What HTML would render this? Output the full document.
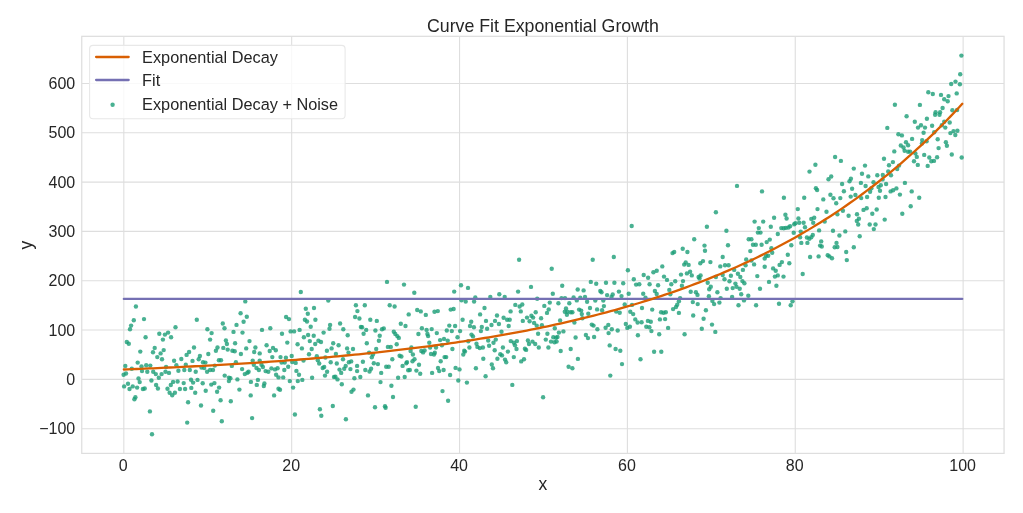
<!DOCTYPE html>
<html><head><meta charset="utf-8"><style>
html,body{margin:0;padding:0;background:#fff;}
body{width:1023px;height:513px;overflow:hidden;font-family:"Liberation Sans",sans-serif;}
svg{display:block;will-change:transform;}
</style></head><body>
<svg width="1023" height="513" viewBox="0 0 1023 513">
<rect width="1023" height="513" fill="#ffffff"/>
<path d="M123.82 36.33V453.40M291.68 36.33V453.40M459.54 36.33V453.40M627.40 36.33V453.40M795.26 36.33V453.40M963.12 36.33V453.40M81.75 428.68H1004.06M81.75 379.36H1004.06M81.75 330.04H1004.06M81.75 280.72H1004.06M81.75 231.41H1004.06M81.75 182.09H1004.06M81.75 132.77H1004.06M81.75 83.45H1004.06" stroke="#dedede" stroke-width="1.1" fill="none"/>
<g fill="#1b9e77" fill-opacity="0.8"><circle cx="135.9" cy="306.5" r="2.2"/><circle cx="133.8" cy="320.3" r="2.2"/><circle cx="131.1" cy="325.6" r="2.2"/><circle cx="130.0" cy="329.3" r="2.2"/><circle cx="144.0" cy="319.1" r="2.2"/><circle cx="175.5" cy="327.2" r="2.2"/><circle cx="196.8" cy="319.7" r="2.2"/><circle cx="207.4" cy="329.3" r="2.2"/><circle cx="211.6" cy="333.1" r="2.2"/><circle cx="222.8" cy="323.5" r="2.2"/><circle cx="224.5" cy="328.2" r="2.2"/><circle cx="236.5" cy="324.9" r="2.2"/><circle cx="233.5" cy="331.9" r="2.2"/><circle cx="159.3" cy="333.7" r="2.2"/><circle cx="164.9" cy="334.6" r="2.2"/><circle cx="168.1" cy="332.6" r="2.2"/><circle cx="171.1" cy="337.3" r="2.2"/><circle cx="162.9" cy="339.6" r="2.2"/><circle cx="145.6" cy="337.3" r="2.2"/><circle cx="126.8" cy="342.0" r="2.2"/><circle cx="128.8" cy="343.8" r="2.2"/><circle cx="140.3" cy="351.6" r="2.2"/><circle cx="154.7" cy="347.9" r="2.2"/><circle cx="153.0" cy="352.2" r="2.2"/><circle cx="160.6" cy="353.4" r="2.2"/><circle cx="163.7" cy="350.1" r="2.2"/><circle cx="157.3" cy="357.1" r="2.2"/><circle cx="162.0" cy="359.2" r="2.2"/><circle cx="194.0" cy="347.5" r="2.2"/><circle cx="189.1" cy="352.0" r="2.2"/><circle cx="186.6" cy="354.9" r="2.2"/><circle cx="199.9" cy="356.0" r="2.2"/><circle cx="198.7" cy="359.2" r="2.2"/><circle cx="181.3" cy="359.0" r="2.2"/><circle cx="210.1" cy="339.6" r="2.2"/><circle cx="208.3" cy="354.0" r="2.2"/><circle cx="217.5" cy="347.5" r="2.2"/><circle cx="215.9" cy="350.7" r="2.2"/><circle cx="223.3" cy="347.9" r="2.2"/><circle cx="225.9" cy="340.5" r="2.2"/><circle cx="226.9" cy="344.0" r="2.2"/><circle cx="227.7" cy="349.6" r="2.2"/><circle cx="232.4" cy="350.7" r="2.2"/><circle cx="234.7" cy="351.3" r="2.2"/><circle cx="235.1" cy="343.2" r="2.2"/><circle cx="174.1" cy="360.7" r="2.2"/><circle cx="192.5" cy="360.9" r="2.2"/><circle cx="218.9" cy="360.2" r="2.2"/><circle cx="221.0" cy="360.2" r="2.2"/><circle cx="125.3" cy="365.9" r="2.2"/><circle cx="137.7" cy="362.6" r="2.2"/><circle cx="131.8" cy="368.8" r="2.2"/><circle cx="141.5" cy="366.5" r="2.2"/><circle cx="146.2" cy="365.3" r="2.2"/><circle cx="150.3" cy="365.6" r="2.2"/><circle cx="142.0" cy="371.1" r="2.2"/><circle cx="147.3" cy="371.7" r="2.2"/><circle cx="153.2" cy="371.7" r="2.2"/><circle cx="155.8" cy="374.1" r="2.2"/><circle cx="158.8" cy="377.8" r="2.2"/><circle cx="161.6" cy="374.1" r="2.2"/><circle cx="165.5" cy="371.7" r="2.2"/><circle cx="169.0" cy="372.9" r="2.2"/><circle cx="166.1" cy="367.0" r="2.2"/><circle cx="176.4" cy="365.3" r="2.2"/><circle cx="178.4" cy="370.8" r="2.2"/><circle cx="184.3" cy="370.0" r="2.2"/><circle cx="185.8" cy="364.7" r="2.2"/><circle cx="189.8" cy="370.0" r="2.2"/><circle cx="195.7" cy="371.7" r="2.2"/><circle cx="203.0" cy="362.3" r="2.2"/><circle cx="205.4" cy="362.6" r="2.2"/><circle cx="201.5" cy="367.6" r="2.2"/><circle cx="204.2" cy="368.0" r="2.2"/><circle cx="207.1" cy="371.7" r="2.2"/><circle cx="210.1" cy="370.0" r="2.2"/><circle cx="213.0" cy="370.0" r="2.2"/><circle cx="214.8" cy="365.6" r="2.2"/><circle cx="231.8" cy="365.9" r="2.2"/><circle cx="235.9" cy="362.3" r="2.2"/><circle cx="123.6" cy="374.7" r="2.2"/><circle cx="126.0" cy="373.5" r="2.2"/><circle cx="138.5" cy="378.5" r="2.2"/><circle cx="139.7" cy="382.1" r="2.2"/><circle cx="151.4" cy="380.5" r="2.2"/><circle cx="124.1" cy="386.4" r="2.2"/><circle cx="128.0" cy="383.8" r="2.2"/><circle cx="129.5" cy="389.0" r="2.2"/><circle cx="132.7" cy="386.4" r="2.2"/><circle cx="137.1" cy="387.6" r="2.2"/><circle cx="142.9" cy="389.0" r="2.2"/><circle cx="144.7" cy="388.5" r="2.2"/><circle cx="156.1" cy="385.0" r="2.2"/><circle cx="157.9" cy="388.5" r="2.2"/><circle cx="167.5" cy="388.7" r="2.2"/><circle cx="170.8" cy="385.0" r="2.2"/><circle cx="173.1" cy="381.9" r="2.2"/><circle cx="177.6" cy="381.5" r="2.2"/><circle cx="179.9" cy="389.0" r="2.2"/><circle cx="183.7" cy="383.1" r="2.2"/><circle cx="185.1" cy="389.0" r="2.2"/><circle cx="191.0" cy="379.7" r="2.2"/><circle cx="193.1" cy="382.6" r="2.2"/><circle cx="197.5" cy="379.9" r="2.2"/><circle cx="191.3" cy="387.9" r="2.2"/><circle cx="195.2" cy="392.8" r="2.2"/><circle cx="202.7" cy="383.2" r="2.2"/><circle cx="205.7" cy="390.7" r="2.2"/><circle cx="211.3" cy="384.6" r="2.2"/><circle cx="214.4" cy="383.1" r="2.2"/><circle cx="219.1" cy="387.6" r="2.2"/><circle cx="217.1" cy="391.7" r="2.2"/><circle cx="224.7" cy="375.6" r="2.2"/><circle cx="228.9" cy="377.6" r="2.2"/><circle cx="230.4" cy="378.2" r="2.2"/><circle cx="228.9" cy="381.1" r="2.2"/><circle cx="237.4" cy="379.4" r="2.2"/><circle cx="169.6" cy="392.8" r="2.2"/><circle cx="172.2" cy="395.2" r="2.2"/><circle cx="174.9" cy="392.8" r="2.2"/><circle cx="135.4" cy="397.3" r="2.2"/><circle cx="134.4" cy="399.3" r="2.2"/><circle cx="188.1" cy="402.2" r="2.2"/><circle cx="201.0" cy="405.5" r="2.2"/><circle cx="220.6" cy="400.2" r="2.2"/><circle cx="230.8" cy="401.3" r="2.2"/><circle cx="149.9" cy="411.4" r="2.2"/><circle cx="213.2" cy="410.8" r="2.2"/><circle cx="152.0" cy="434.3" r="2.2"/><circle cx="187.2" cy="422.6" r="2.2"/><circle cx="221.8" cy="421.2" r="2.2"/><circle cx="300.8" cy="292.0" r="2.2"/><circle cx="245.3" cy="301.4" r="2.2"/><circle cx="328.3" cy="300.6" r="2.2"/><circle cx="355.9" cy="305.3" r="2.2"/><circle cx="357.4" cy="311.1" r="2.2"/><circle cx="240.6" cy="313.3" r="2.2"/><circle cx="246.8" cy="316.7" r="2.2"/><circle cx="243.6" cy="321.7" r="2.2"/><circle cx="305.8" cy="308.8" r="2.2"/><circle cx="314.0" cy="308.0" r="2.2"/><circle cx="307.8" cy="313.8" r="2.2"/><circle cx="286.1" cy="317.0" r="2.2"/><circle cx="289.0" cy="319.1" r="2.2"/><circle cx="304.9" cy="319.7" r="2.2"/><circle cx="307.0" cy="321.5" r="2.2"/><circle cx="315.4" cy="319.7" r="2.2"/><circle cx="355.1" cy="317.0" r="2.2"/><circle cx="310.7" cy="326.7" r="2.2"/><circle cx="330.1" cy="324.9" r="2.2"/><circle cx="340.1" cy="323.5" r="2.2"/><circle cx="329.5" cy="328.7" r="2.2"/><circle cx="343.3" cy="329.3" r="2.2"/><circle cx="262.0" cy="329.9" r="2.2"/><circle cx="270.3" cy="328.2" r="2.2"/><circle cx="242.5" cy="332.6" r="2.2"/><circle cx="282.0" cy="333.8" r="2.2"/><circle cx="290.6" cy="331.4" r="2.2"/><circle cx="294.1" cy="331.4" r="2.2"/><circle cx="299.6" cy="329.9" r="2.2"/><circle cx="323.6" cy="332.6" r="2.2"/><circle cx="347.7" cy="335.2" r="2.2"/><circle cx="303.9" cy="337.3" r="2.2"/><circle cx="308.1" cy="335.0" r="2.2"/><circle cx="313.7" cy="335.8" r="2.2"/><circle cx="309.8" cy="341.1" r="2.2"/><circle cx="318.4" cy="340.8" r="2.2"/><circle cx="321.0" cy="342.0" r="2.2"/><circle cx="315.2" cy="344.0" r="2.2"/><circle cx="249.5" cy="341.1" r="2.2"/><circle cx="287.3" cy="342.6" r="2.2"/><circle cx="297.6" cy="344.3" r="2.2"/><circle cx="266.6" cy="345.3" r="2.2"/><circle cx="255.4" cy="347.5" r="2.2"/><circle cx="246.2" cy="348.4" r="2.2"/><circle cx="273.0" cy="347.9" r="2.2"/><circle cx="275.8" cy="350.2" r="2.2"/><circle cx="269.7" cy="351.0" r="2.2"/><circle cx="254.2" cy="352.0" r="2.2"/><circle cx="259.7" cy="353.4" r="2.2"/><circle cx="240.9" cy="354.0" r="2.2"/><circle cx="301.9" cy="348.4" r="2.2"/><circle cx="311.7" cy="349.0" r="2.2"/><circle cx="333.2" cy="343.2" r="2.2"/><circle cx="338.6" cy="345.2" r="2.2"/><circle cx="331.6" cy="348.4" r="2.2"/><circle cx="326.9" cy="350.8" r="2.2"/><circle cx="347.1" cy="348.4" r="2.2"/><circle cx="353.0" cy="349.0" r="2.2"/><circle cx="348.5" cy="352.6" r="2.2"/><circle cx="335.9" cy="354.0" r="2.2"/><circle cx="309.0" cy="354.3" r="2.2"/><circle cx="291.7" cy="356.0" r="2.2"/><circle cx="272.3" cy="357.1" r="2.2"/><circle cx="280.5" cy="357.1" r="2.2"/><circle cx="285.9" cy="357.8" r="2.2"/><circle cx="316.8" cy="356.3" r="2.2"/><circle cx="325.4" cy="357.5" r="2.2"/><circle cx="343.0" cy="359.2" r="2.2"/><circle cx="252.7" cy="360.6" r="2.2"/><circle cx="259.7" cy="360.6" r="2.2"/><circle cx="281.6" cy="362.6" r="2.2"/><circle cx="284.7" cy="362.6" r="2.2"/><circle cx="292.2" cy="362.1" r="2.2"/><circle cx="295.7" cy="362.9" r="2.2"/><circle cx="303.5" cy="360.6" r="2.2"/><circle cx="317.8" cy="360.2" r="2.2"/><circle cx="330.7" cy="362.3" r="2.2"/><circle cx="336.8" cy="363.5" r="2.2"/><circle cx="348.9" cy="362.3" r="2.2"/><circle cx="351.2" cy="361.4" r="2.2"/><circle cx="357.1" cy="365.9" r="2.2"/><circle cx="253.8" cy="364.7" r="2.2"/><circle cx="261.5" cy="364.7" r="2.2"/><circle cx="256.5" cy="368.0" r="2.2"/><circle cx="258.9" cy="370.0" r="2.2"/><circle cx="262.9" cy="367.0" r="2.2"/><circle cx="242.1" cy="369.1" r="2.2"/><circle cx="244.8" cy="374.1" r="2.2"/><circle cx="248.6" cy="371.7" r="2.2"/><circle cx="247.4" cy="372.7" r="2.2"/><circle cx="265.6" cy="371.1" r="2.2"/><circle cx="268.3" cy="371.7" r="2.2"/><circle cx="271.4" cy="368.4" r="2.2"/><circle cx="275.0" cy="369.4" r="2.2"/><circle cx="277.6" cy="368.2" r="2.2"/><circle cx="284.3" cy="370.0" r="2.2"/><circle cx="288.2" cy="366.8" r="2.2"/><circle cx="276.1" cy="374.7" r="2.2"/><circle cx="278.5" cy="377.4" r="2.2"/><circle cx="283.2" cy="377.4" r="2.2"/><circle cx="296.4" cy="370.9" r="2.2"/><circle cx="299.0" cy="374.7" r="2.2"/><circle cx="319.2" cy="363.5" r="2.2"/><circle cx="322.7" cy="368.0" r="2.2"/><circle cx="324.2" cy="367.0" r="2.2"/><circle cx="327.1" cy="371.7" r="2.2"/><circle cx="325.0" cy="375.6" r="2.2"/><circle cx="339.5" cy="369.6" r="2.2"/><circle cx="341.2" cy="372.9" r="2.2"/><circle cx="344.2" cy="368.8" r="2.2"/><circle cx="345.7" cy="365.9" r="2.2"/><circle cx="350.4" cy="369.1" r="2.2"/><circle cx="357.1" cy="371.1" r="2.2"/><circle cx="334.0" cy="377.0" r="2.2"/><circle cx="335.4" cy="376.8" r="2.2"/><circle cx="337.5" cy="379.4" r="2.2"/><circle cx="354.4" cy="378.2" r="2.2"/><circle cx="250.9" cy="381.9" r="2.2"/><circle cx="257.9" cy="379.9" r="2.2"/><circle cx="256.8" cy="384.9" r="2.2"/><circle cx="264.4" cy="383.5" r="2.2"/><circle cx="263.8" cy="386.0" r="2.2"/><circle cx="289.8" cy="381.1" r="2.2"/><circle cx="297.8" cy="381.1" r="2.2"/><circle cx="302.3" cy="379.9" r="2.2"/><circle cx="312.1" cy="377.8" r="2.2"/><circle cx="341.8" cy="384.3" r="2.2"/><circle cx="239.4" cy="389.6" r="2.2"/><circle cx="278.5" cy="388.7" r="2.2"/><circle cx="280.0" cy="389.7" r="2.2"/><circle cx="293.1" cy="387.6" r="2.2"/><circle cx="351.5" cy="391.7" r="2.2"/><circle cx="353.5" cy="389.6" r="2.2"/><circle cx="250.7" cy="395.4" r="2.2"/><circle cx="274.1" cy="395.4" r="2.2"/><circle cx="332.8" cy="406.0" r="2.2"/><circle cx="319.9" cy="409.3" r="2.2"/><circle cx="321.3" cy="415.7" r="2.2"/><circle cx="294.9" cy="414.5" r="2.2"/><circle cx="252.1" cy="418.1" r="2.2"/><circle cx="345.9" cy="419.2" r="2.2"/><circle cx="387.0" cy="281.9" r="2.2"/><circle cx="404.0" cy="284.6" r="2.2"/><circle cx="414.3" cy="292.8" r="2.2"/><circle cx="454.2" cy="291.6" r="2.2"/><circle cx="461.0" cy="285.2" r="2.2"/><circle cx="468.0" cy="287.9" r="2.2"/><circle cx="475.3" cy="297.5" r="2.2"/><circle cx="461.5" cy="300.2" r="2.2"/><circle cx="465.7" cy="301.6" r="2.2"/><circle cx="474.1" cy="301.6" r="2.2"/><circle cx="364.8" cy="305.3" r="2.2"/><circle cx="389.7" cy="305.3" r="2.2"/><circle cx="394.6" cy="306.5" r="2.2"/><circle cx="359.4" cy="318.5" r="2.2"/><circle cx="370.3" cy="319.7" r="2.2"/><circle cx="376.8" cy="320.9" r="2.2"/><circle cx="408.7" cy="314.4" r="2.2"/><circle cx="417.2" cy="310.0" r="2.2"/><circle cx="420.8" cy="311.4" r="2.2"/><circle cx="425.8" cy="314.9" r="2.2"/><circle cx="434.5" cy="311.7" r="2.2"/><circle cx="437.8" cy="311.1" r="2.2"/><circle cx="450.7" cy="309.6" r="2.2"/><circle cx="453.6" cy="309.0" r="2.2"/><circle cx="462.6" cy="319.7" r="2.2"/><circle cx="471.2" cy="321.7" r="2.2"/><circle cx="470.0" cy="326.0" r="2.2"/><circle cx="473.9" cy="327.2" r="2.2"/><circle cx="400.8" cy="323.8" r="2.2"/><circle cx="405.5" cy="326.0" r="2.2"/><circle cx="449.3" cy="325.6" r="2.2"/><circle cx="455.1" cy="326.0" r="2.2"/><circle cx="360.9" cy="327.0" r="2.2"/><circle cx="362.1" cy="327.2" r="2.2"/><circle cx="366.2" cy="329.9" r="2.2"/><circle cx="375.4" cy="330.5" r="2.2"/><circle cx="382.0" cy="329.3" r="2.2"/><circle cx="383.8" cy="328.4" r="2.2"/><circle cx="363.6" cy="333.8" r="2.2"/><circle cx="379.7" cy="335.8" r="2.2"/><circle cx="378.9" cy="340.7" r="2.2"/><circle cx="393.8" cy="331.7" r="2.2"/><circle cx="395.3" cy="334.0" r="2.2"/><circle cx="397.3" cy="336.1" r="2.2"/><circle cx="398.8" cy="337.9" r="2.2"/><circle cx="421.9" cy="328.2" r="2.2"/><circle cx="426.6" cy="329.9" r="2.2"/><circle cx="431.7" cy="329.1" r="2.2"/><circle cx="436.8" cy="333.1" r="2.2"/><circle cx="418.4" cy="334.0" r="2.2"/><circle cx="427.4" cy="334.0" r="2.2"/><circle cx="428.1" cy="336.1" r="2.2"/><circle cx="446.8" cy="330.5" r="2.2"/><circle cx="451.8" cy="331.1" r="2.2"/><circle cx="460.1" cy="331.1" r="2.2"/><circle cx="457.5" cy="337.2" r="2.2"/><circle cx="471.5" cy="334.6" r="2.2"/><circle cx="473.0" cy="336.4" r="2.2"/><circle cx="440.1" cy="340.1" r="2.2"/><circle cx="444.0" cy="338.9" r="2.2"/><circle cx="447.7" cy="340.7" r="2.2"/><circle cx="429.3" cy="342.8" r="2.2"/><circle cx="366.8" cy="343.2" r="2.2"/><circle cx="396.7" cy="344.3" r="2.2"/><circle cx="387.9" cy="346.9" r="2.2"/><circle cx="390.8" cy="346.9" r="2.2"/><circle cx="376.2" cy="349.0" r="2.2"/><circle cx="411.4" cy="347.5" r="2.2"/><circle cx="430.1" cy="347.5" r="2.2"/><circle cx="436.0" cy="347.5" r="2.2"/><circle cx="441.9" cy="345.2" r="2.2"/><circle cx="452.4" cy="349.0" r="2.2"/><circle cx="468.3" cy="341.3" r="2.2"/><circle cx="476.5" cy="343.8" r="2.2"/><circle cx="477.4" cy="346.9" r="2.2"/><circle cx="469.4" cy="347.5" r="2.2"/><circle cx="464.2" cy="350.7" r="2.2"/><circle cx="465.0" cy="351.6" r="2.2"/><circle cx="463.3" cy="354.5" r="2.2"/><circle cx="410.6" cy="351.0" r="2.2"/><circle cx="412.9" cy="354.5" r="2.2"/><circle cx="421.3" cy="351.0" r="2.2"/><circle cx="424.6" cy="350.4" r="2.2"/><circle cx="423.1" cy="352.4" r="2.2"/><circle cx="431.0" cy="354.0" r="2.2"/><circle cx="434.8" cy="352.8" r="2.2"/><circle cx="434.0" cy="354.5" r="2.2"/><circle cx="369.1" cy="352.6" r="2.2"/><circle cx="373.0" cy="354.5" r="2.2"/><circle cx="371.8" cy="357.2" r="2.2"/><circle cx="399.6" cy="355.7" r="2.2"/><circle cx="401.4" cy="356.5" r="2.2"/><circle cx="444.6" cy="357.1" r="2.2"/><circle cx="446.2" cy="357.1" r="2.2"/><circle cx="392.3" cy="359.2" r="2.2"/><circle cx="414.5" cy="359.2" r="2.2"/><circle cx="362.9" cy="361.8" r="2.2"/><circle cx="407.0" cy="362.1" r="2.2"/><circle cx="406.3" cy="363.3" r="2.2"/><circle cx="412.5" cy="361.2" r="2.2"/><circle cx="440.7" cy="361.2" r="2.2"/><circle cx="373.8" cy="363.3" r="2.2"/><circle cx="377.9" cy="364.1" r="2.2"/><circle cx="386.2" cy="366.8" r="2.2"/><circle cx="388.7" cy="366.8" r="2.2"/><circle cx="402.6" cy="365.9" r="2.2"/><circle cx="419.0" cy="364.7" r="2.2"/><circle cx="365.3" cy="370.0" r="2.2"/><circle cx="369.5" cy="371.5" r="2.2"/><circle cx="371.1" cy="368.8" r="2.2"/><circle cx="381.2" cy="372.9" r="2.2"/><circle cx="408.2" cy="370.3" r="2.2"/><circle cx="409.8" cy="370.0" r="2.2"/><circle cx="416.4" cy="370.6" r="2.2"/><circle cx="420.2" cy="373.7" r="2.2"/><circle cx="432.1" cy="372.9" r="2.2"/><circle cx="438.0" cy="368.0" r="2.2"/><circle cx="439.2" cy="371.1" r="2.2"/><circle cx="443.6" cy="370.0" r="2.2"/><circle cx="450.1" cy="375.0" r="2.2"/><circle cx="455.6" cy="367.9" r="2.2"/><circle cx="459.5" cy="369.4" r="2.2"/><circle cx="475.9" cy="368.2" r="2.2"/><circle cx="360.3" cy="377.0" r="2.2"/><circle cx="398.1" cy="377.8" r="2.2"/><circle cx="404.7" cy="377.0" r="2.2"/><circle cx="458.3" cy="380.5" r="2.2"/><circle cx="466.9" cy="382.6" r="2.2"/><circle cx="380.5" cy="382.1" r="2.2"/><circle cx="391.4" cy="385.8" r="2.2"/><circle cx="442.5" cy="391.1" r="2.2"/><circle cx="368.0" cy="395.4" r="2.2"/><circle cx="393.0" cy="397.0" r="2.2"/><circle cx="448.1" cy="400.8" r="2.2"/><circle cx="375.0" cy="407.2" r="2.2"/><circle cx="385.0" cy="406.3" r="2.2"/><circle cx="385.6" cy="407.7" r="2.2"/><circle cx="415.7" cy="406.7" r="2.2"/><circle cx="519.1" cy="259.7" r="2.2"/><circle cx="551.7" cy="268.7" r="2.2"/><circle cx="592.7" cy="259.7" r="2.2"/><circle cx="590.8" cy="281.9" r="2.2"/><circle cx="596.2" cy="283.8" r="2.2"/><circle cx="531.0" cy="286.9" r="2.2"/><circle cx="562.2" cy="285.7" r="2.2"/><circle cx="577.7" cy="289.5" r="2.2"/><circle cx="583.6" cy="290.4" r="2.2"/><circle cx="518.1" cy="291.6" r="2.2"/><circle cx="499.3" cy="294.2" r="2.2"/><circle cx="504.7" cy="296.9" r="2.2"/><circle cx="490.3" cy="296.9" r="2.2"/><circle cx="552.8" cy="293.7" r="2.2"/><circle cx="585.0" cy="296.9" r="2.2"/><circle cx="573.6" cy="297.5" r="2.2"/><circle cx="537.2" cy="298.7" r="2.2"/><circle cx="561.5" cy="298.1" r="2.2"/><circle cx="565.0" cy="298.1" r="2.2"/><circle cx="580.3" cy="297.7" r="2.2"/><circle cx="576.8" cy="300.4" r="2.2"/><circle cx="587.1" cy="301.8" r="2.2"/><circle cx="595.3" cy="300.6" r="2.2"/><circle cx="484.5" cy="308.0" r="2.2"/><circle cx="515.3" cy="304.9" r="2.2"/><circle cx="519.6" cy="306.5" r="2.2"/><circle cx="522.3" cy="304.5" r="2.2"/><circle cx="520.8" cy="311.4" r="2.2"/><circle cx="510.6" cy="311.4" r="2.2"/><circle cx="480.1" cy="314.4" r="2.2"/><circle cx="497.0" cy="315.5" r="2.2"/><circle cx="503.6" cy="317.8" r="2.2"/><circle cx="486.0" cy="320.9" r="2.2"/><circle cx="495.0" cy="320.9" r="2.2"/><circle cx="498.9" cy="324.0" r="2.2"/><circle cx="491.5" cy="325.0" r="2.2"/><circle cx="507.1" cy="319.7" r="2.2"/><circle cx="509.7" cy="319.7" r="2.2"/><circle cx="508.7" cy="326.0" r="2.2"/><circle cx="481.8" cy="327.0" r="2.2"/><circle cx="480.9" cy="331.1" r="2.2"/><circle cx="487.1" cy="328.7" r="2.2"/><circle cx="501.5" cy="331.7" r="2.2"/><circle cx="522.8" cy="320.9" r="2.2"/><circle cx="527.0" cy="317.6" r="2.2"/><circle cx="531.4" cy="315.8" r="2.2"/><circle cx="533.1" cy="317.6" r="2.2"/><circle cx="529.6" cy="321.3" r="2.2"/><circle cx="534.1" cy="322.9" r="2.2"/><circle cx="535.7" cy="312.3" r="2.2"/><circle cx="536.7" cy="325.6" r="2.2"/><circle cx="541.9" cy="325.2" r="2.2"/><circle cx="541.1" cy="318.2" r="2.2"/><circle cx="544.3" cy="305.9" r="2.2"/><circle cx="549.8" cy="302.6" r="2.2"/><circle cx="548.7" cy="309.4" r="2.2"/><circle cx="547.0" cy="312.9" r="2.2"/><circle cx="558.4" cy="303.3" r="2.2"/><circle cx="569.3" cy="303.3" r="2.2"/><circle cx="564.8" cy="311.7" r="2.2"/><circle cx="566.0" cy="308.4" r="2.2"/><circle cx="567.4" cy="311.7" r="2.2"/><circle cx="566.9" cy="314.7" r="2.2"/><circle cx="570.7" cy="312.3" r="2.2"/><circle cx="572.4" cy="312.3" r="2.2"/><circle cx="560.1" cy="320.5" r="2.2"/><circle cx="554.8" cy="328.2" r="2.2"/><circle cx="558.9" cy="332.6" r="2.2"/><circle cx="563.4" cy="331.4" r="2.2"/><circle cx="574.4" cy="322.6" r="2.2"/><circle cx="579.1" cy="309.6" r="2.2"/><circle cx="581.2" cy="310.6" r="2.2"/><circle cx="581.8" cy="314.1" r="2.2"/><circle cx="582.4" cy="318.2" r="2.2"/><circle cx="588.3" cy="313.8" r="2.2"/><circle cx="590.0" cy="308.0" r="2.2"/><circle cx="597.1" cy="309.4" r="2.2"/><circle cx="591.8" cy="324.6" r="2.2"/><circle cx="593.5" cy="325.6" r="2.2"/><circle cx="597.4" cy="329.3" r="2.2"/><circle cx="538.1" cy="333.8" r="2.2"/><circle cx="547.4" cy="333.8" r="2.2"/><circle cx="545.8" cy="339.6" r="2.2"/><circle cx="551.0" cy="341.6" r="2.2"/><circle cx="553.3" cy="337.3" r="2.2"/><circle cx="556.0" cy="337.8" r="2.2"/><circle cx="557.5" cy="337.0" r="2.2"/><circle cx="554.5" cy="342.2" r="2.2"/><circle cx="556.6" cy="341.6" r="2.2"/><circle cx="575.6" cy="337.5" r="2.2"/><circle cx="585.9" cy="335.0" r="2.2"/><circle cx="588.0" cy="338.1" r="2.2"/><circle cx="594.1" cy="337.0" r="2.2"/><circle cx="548.4" cy="347.5" r="2.2"/><circle cx="560.7" cy="351.0" r="2.2"/><circle cx="570.7" cy="349.0" r="2.2"/><circle cx="538.8" cy="347.5" r="2.2"/><circle cx="495.8" cy="339.6" r="2.2"/><circle cx="488.2" cy="340.5" r="2.2"/><circle cx="493.5" cy="342.8" r="2.2"/><circle cx="489.1" cy="345.7" r="2.2"/><circle cx="479.8" cy="348.1" r="2.2"/><circle cx="482.9" cy="347.5" r="2.2"/><circle cx="494.7" cy="350.2" r="2.2"/><circle cx="502.9" cy="347.5" r="2.2"/><circle cx="507.9" cy="351.6" r="2.2"/><circle cx="500.3" cy="354.2" r="2.2"/><circle cx="502.0" cy="355.4" r="2.2"/><circle cx="510.8" cy="341.1" r="2.2"/><circle cx="513.8" cy="342.8" r="2.2"/><circle cx="516.9" cy="341.1" r="2.2"/><circle cx="515.0" cy="345.2" r="2.2"/><circle cx="516.5" cy="349.0" r="2.2"/><circle cx="527.9" cy="340.5" r="2.2"/><circle cx="529.0" cy="344.0" r="2.2"/><circle cx="532.5" cy="341.6" r="2.2"/><circle cx="535.2" cy="344.0" r="2.2"/><circle cx="524.9" cy="348.7" r="2.2"/><circle cx="526.1" cy="349.9" r="2.2"/><circle cx="513.8" cy="357.1" r="2.2"/><circle cx="483.3" cy="358.7" r="2.2"/><circle cx="497.4" cy="358.7" r="2.2"/><circle cx="505.0" cy="359.6" r="2.2"/><circle cx="524.0" cy="359.2" r="2.2"/><circle cx="577.9" cy="358.9" r="2.2"/><circle cx="506.2" cy="362.3" r="2.2"/><circle cx="521.2" cy="361.4" r="2.2"/><circle cx="491.8" cy="364.5" r="2.2"/><circle cx="493.0" cy="368.2" r="2.2"/><circle cx="485.6" cy="376.2" r="2.2"/><circle cx="568.6" cy="366.7" r="2.2"/><circle cx="572.4" cy="368.2" r="2.2"/><circle cx="512.3" cy="384.9" r="2.2"/><circle cx="543.1" cy="397.2" r="2.2"/><circle cx="631.7" cy="226.0" r="2.2"/><circle cx="706.9" cy="226.7" r="2.2"/><circle cx="715.9" cy="212.3" r="2.2"/><circle cx="694.2" cy="239.2" r="2.2"/><circle cx="613.8" cy="257.0" r="2.2"/><circle cx="627.9" cy="270.3" r="2.2"/><circle cx="704.5" cy="245.6" r="2.2"/><circle cx="705.0" cy="250.8" r="2.2"/><circle cx="682.7" cy="248.8" r="2.2"/><circle cx="687.4" cy="252.0" r="2.2"/><circle cx="672.5" cy="253.1" r="2.2"/><circle cx="674.2" cy="252.0" r="2.2"/><circle cx="662.3" cy="266.4" r="2.2"/><circle cx="653.4" cy="272.3" r="2.2"/><circle cx="656.7" cy="270.7" r="2.2"/><circle cx="643.7" cy="275.0" r="2.2"/><circle cx="648.1" cy="277.8" r="2.2"/><circle cx="633.8" cy="279.3" r="2.2"/><circle cx="664.0" cy="276.6" r="2.2"/><circle cx="667.0" cy="279.9" r="2.2"/><circle cx="675.2" cy="281.3" r="2.2"/><circle cx="671.3" cy="284.2" r="2.2"/><circle cx="681.0" cy="274.6" r="2.2"/><circle cx="683.0" cy="281.1" r="2.2"/><circle cx="684.2" cy="264.6" r="2.2"/><circle cx="685.7" cy="262.5" r="2.2"/><circle cx="688.6" cy="264.9" r="2.2"/><circle cx="686.9" cy="273.4" r="2.2"/><circle cx="690.1" cy="271.7" r="2.2"/><circle cx="691.8" cy="275.4" r="2.2"/><circle cx="700.3" cy="263.2" r="2.2"/><circle cx="703.0" cy="261.1" r="2.2"/><circle cx="710.4" cy="262.1" r="2.2"/><circle cx="698.6" cy="277.0" r="2.2"/><circle cx="700.6" cy="275.4" r="2.2"/><circle cx="699.5" cy="278.5" r="2.2"/><circle cx="715.9" cy="277.0" r="2.2"/><circle cx="707.7" cy="282.8" r="2.2"/><circle cx="710.8" cy="286.7" r="2.2"/><circle cx="709.2" cy="289.3" r="2.2"/><circle cx="717.4" cy="292.2" r="2.2"/><circle cx="681.9" cy="285.7" r="2.2"/><circle cx="606.0" cy="282.8" r="2.2"/><circle cx="614.4" cy="282.8" r="2.2"/><circle cx="623.2" cy="283.2" r="2.2"/><circle cx="636.1" cy="284.6" r="2.2"/><circle cx="639.3" cy="284.3" r="2.2"/><circle cx="649.6" cy="284.2" r="2.2"/><circle cx="658.1" cy="285.2" r="2.2"/><circle cx="600.3" cy="291.0" r="2.2"/><circle cx="601.5" cy="292.2" r="2.2"/><circle cx="607.1" cy="295.1" r="2.2"/><circle cx="612.7" cy="294.5" r="2.2"/><circle cx="611.5" cy="296.9" r="2.2"/><circle cx="618.9" cy="291.6" r="2.2"/><circle cx="621.5" cy="296.1" r="2.2"/><circle cx="628.7" cy="293.7" r="2.2"/><circle cx="643.2" cy="293.7" r="2.2"/><circle cx="654.9" cy="291.0" r="2.2"/><circle cx="656.7" cy="294.0" r="2.2"/><circle cx="669.3" cy="289.9" r="2.2"/><circle cx="670.3" cy="294.2" r="2.2"/><circle cx="690.7" cy="291.8" r="2.2"/><circle cx="695.9" cy="292.2" r="2.2"/><circle cx="697.5" cy="294.9" r="2.2"/><circle cx="708.9" cy="296.3" r="2.2"/><circle cx="680.1" cy="298.1" r="2.2"/><circle cx="645.5" cy="297.7" r="2.2"/><circle cx="603.3" cy="300.6" r="2.2"/><circle cx="603.9" cy="306.1" r="2.2"/><circle cx="602.1" cy="310.3" r="2.2"/><circle cx="624.7" cy="304.5" r="2.2"/><circle cx="632.0" cy="304.9" r="2.2"/><circle cx="642.0" cy="308.0" r="2.2"/><circle cx="652.2" cy="309.6" r="2.2"/><circle cx="616.2" cy="311.5" r="2.2"/><circle cx="619.7" cy="312.7" r="2.2"/><circle cx="630.3" cy="311.7" r="2.2"/><circle cx="633.2" cy="314.1" r="2.2"/><circle cx="635.3" cy="319.4" r="2.2"/><circle cx="637.6" cy="322.5" r="2.2"/><circle cx="641.6" cy="322.3" r="2.2"/><circle cx="647.9" cy="320.9" r="2.2"/><circle cx="650.8" cy="321.7" r="2.2"/><circle cx="646.3" cy="326.7" r="2.2"/><circle cx="649.4" cy="327.2" r="2.2"/><circle cx="651.4" cy="331.1" r="2.2"/><circle cx="659.9" cy="319.4" r="2.2"/><circle cx="665.1" cy="319.1" r="2.2"/><circle cx="661.1" cy="312.3" r="2.2"/><circle cx="663.5" cy="312.7" r="2.2"/><circle cx="665.8" cy="312.3" r="2.2"/><circle cx="678.9" cy="301.2" r="2.2"/><circle cx="677.2" cy="304.7" r="2.2"/><circle cx="676.0" cy="307.0" r="2.2"/><circle cx="673.1" cy="309.1" r="2.2"/><circle cx="678.9" cy="312.9" r="2.2"/><circle cx="692.8" cy="302.1" r="2.2"/><circle cx="697.7" cy="304.1" r="2.2"/><circle cx="693.2" cy="315.5" r="2.2"/><circle cx="705.9" cy="310.2" r="2.2"/><circle cx="703.6" cy="318.8" r="2.2"/><circle cx="712.4" cy="300.9" r="2.2"/><circle cx="714.1" cy="304.1" r="2.2"/><circle cx="712.0" cy="324.6" r="2.2"/><circle cx="701.8" cy="328.7" r="2.2"/><circle cx="715.3" cy="331.9" r="2.2"/><circle cx="684.6" cy="334.3" r="2.2"/><circle cx="668.1" cy="327.9" r="2.2"/><circle cx="659.2" cy="334.3" r="2.2"/><circle cx="637.9" cy="335.2" r="2.2"/><circle cx="625.8" cy="324.0" r="2.2"/><circle cx="627.3" cy="327.9" r="2.2"/><circle cx="629.9" cy="326.7" r="2.2"/><circle cx="608.3" cy="324.9" r="2.2"/><circle cx="605.6" cy="327.8" r="2.2"/><circle cx="611.8" cy="329.3" r="2.2"/><circle cx="617.7" cy="330.5" r="2.2"/><circle cx="608.6" cy="333.1" r="2.2"/><circle cx="609.7" cy="345.4" r="2.2"/><circle cx="615.6" cy="349.0" r="2.2"/><circle cx="620.3" cy="350.7" r="2.2"/><circle cx="654.1" cy="351.8" r="2.2"/><circle cx="661.3" cy="351.8" r="2.2"/><circle cx="640.5" cy="359.2" r="2.2"/><circle cx="622.0" cy="364.1" r="2.2"/><circle cx="610.3" cy="375.6" r="2.2"/><circle cx="835.1" cy="157.0" r="2.2"/><circle cx="815.4" cy="164.8" r="2.2"/><circle cx="809.5" cy="171.6" r="2.2"/><circle cx="831.2" cy="176.5" r="2.2"/><circle cx="828.5" cy="179.2" r="2.2"/><circle cx="737.0" cy="185.9" r="2.2"/><circle cx="762.0" cy="191.4" r="2.2"/><circle cx="783.9" cy="197.8" r="2.2"/><circle cx="804.2" cy="197.8" r="2.2"/><circle cx="815.9" cy="188.2" r="2.2"/><circle cx="817.1" cy="190.0" r="2.2"/><circle cx="830.4" cy="194.7" r="2.2"/><circle cx="833.5" cy="198.2" r="2.2"/><circle cx="823.3" cy="199.4" r="2.2"/><circle cx="836.2" cy="203.2" r="2.2"/><circle cx="797.8" cy="209.1" r="2.2"/><circle cx="817.5" cy="209.1" r="2.2"/><circle cx="826.5" cy="211.7" r="2.2"/><circle cx="837.4" cy="214.3" r="2.2"/><circle cx="785.4" cy="214.8" r="2.2"/><circle cx="786.6" cy="218.5" r="2.2"/><circle cx="774.1" cy="217.8" r="2.2"/><circle cx="754.6" cy="221.6" r="2.2"/><circle cx="763.2" cy="221.6" r="2.2"/><circle cx="798.4" cy="218.5" r="2.2"/><circle cx="811.3" cy="218.9" r="2.2"/><circle cx="814.2" cy="217.8" r="2.2"/><circle cx="824.7" cy="221.6" r="2.2"/><circle cx="803.6" cy="222.8" r="2.2"/><circle cx="799.2" cy="222.8" r="2.2"/><circle cx="795.4" cy="223.2" r="2.2"/><circle cx="794.2" cy="224.3" r="2.2"/><circle cx="813.2" cy="222.8" r="2.2"/><circle cx="805.0" cy="227.2" r="2.2"/><circle cx="770.8" cy="226.7" r="2.2"/><circle cx="758.8" cy="228.1" r="2.2"/><circle cx="757.9" cy="232.6" r="2.2"/><circle cx="760.5" cy="232.6" r="2.2"/><circle cx="781.3" cy="228.1" r="2.2"/><circle cx="783.7" cy="228.3" r="2.2"/><circle cx="785.8" cy="227.9" r="2.2"/><circle cx="788.4" cy="227.5" r="2.2"/><circle cx="790.1" cy="226.3" r="2.2"/><circle cx="726.4" cy="230.7" r="2.2"/><circle cx="777.8" cy="234.0" r="2.2"/><circle cx="793.7" cy="232.8" r="2.2"/><circle cx="800.7" cy="231.6" r="2.2"/><circle cx="819.1" cy="230.4" r="2.2"/><circle cx="833.0" cy="230.7" r="2.2"/><circle cx="812.8" cy="234.9" r="2.2"/><circle cx="811.3" cy="237.2" r="2.2"/><circle cx="800.1" cy="237.2" r="2.2"/><circle cx="806.9" cy="237.5" r="2.2"/><circle cx="809.3" cy="238.7" r="2.2"/><circle cx="748.7" cy="239.2" r="2.2"/><circle cx="751.4" cy="239.2" r="2.2"/><circle cx="769.8" cy="239.6" r="2.2"/><circle cx="766.7" cy="242.1" r="2.2"/><circle cx="807.4" cy="242.9" r="2.2"/><circle cx="801.3" cy="242.9" r="2.2"/><circle cx="821.2" cy="241.4" r="2.2"/><circle cx="836.5" cy="242.9" r="2.2"/><circle cx="728.0" cy="245.3" r="2.2"/><circle cx="753.0" cy="244.7" r="2.2"/><circle cx="755.8" cy="244.7" r="2.2"/><circle cx="761.6" cy="244.7" r="2.2"/><circle cx="750.3" cy="251.1" r="2.2"/><circle cx="771.4" cy="248.2" r="2.2"/><circle cx="772.2" cy="252.7" r="2.2"/><circle cx="722.7" cy="257.0" r="2.2"/><circle cx="791.3" cy="245.3" r="2.2"/><circle cx="787.8" cy="254.7" r="2.2"/><circle cx="764.7" cy="258.5" r="2.2"/><circle cx="766.1" cy="255.8" r="2.2"/><circle cx="768.2" cy="255.8" r="2.2"/><circle cx="746.2" cy="259.4" r="2.2"/><circle cx="751.4" cy="260.5" r="2.2"/><circle cx="754.1" cy="264.4" r="2.2"/><circle cx="745.6" cy="265.2" r="2.2"/><circle cx="720.3" cy="266.4" r="2.2"/><circle cx="725.0" cy="265.2" r="2.2"/><circle cx="728.6" cy="265.2" r="2.2"/><circle cx="734.2" cy="269.9" r="2.2"/><circle cx="742.9" cy="269.9" r="2.2"/><circle cx="764.7" cy="266.7" r="2.2"/><circle cx="773.1" cy="268.4" r="2.2"/><circle cx="775.7" cy="270.7" r="2.2"/><circle cx="779.6" cy="264.9" r="2.2"/><circle cx="781.9" cy="262.1" r="2.2"/><circle cx="789.3" cy="263.2" r="2.2"/><circle cx="820.1" cy="245.6" r="2.2"/><circle cx="821.8" cy="246.5" r="2.2"/><circle cx="810.1" cy="257.0" r="2.2"/><circle cx="818.6" cy="256.4" r="2.2"/><circle cx="827.7" cy="255.2" r="2.2"/><circle cx="829.4" cy="256.4" r="2.2"/><circle cx="832.0" cy="258.2" r="2.2"/><circle cx="834.7" cy="247.3" r="2.2"/><circle cx="837.4" cy="247.0" r="2.2"/><circle cx="802.7" cy="274.0" r="2.2"/><circle cx="722.7" cy="275.0" r="2.2"/><circle cx="724.5" cy="279.3" r="2.2"/><circle cx="730.9" cy="275.7" r="2.2"/><circle cx="737.9" cy="273.8" r="2.2"/><circle cx="740.3" cy="277.0" r="2.2"/><circle cx="757.3" cy="276.1" r="2.2"/><circle cx="774.9" cy="276.6" r="2.2"/><circle cx="777.8" cy="275.4" r="2.2"/><circle cx="783.5" cy="276.6" r="2.2"/><circle cx="729.5" cy="281.3" r="2.2"/><circle cx="742.4" cy="281.1" r="2.2"/><circle cx="744.4" cy="283.2" r="2.2"/><circle cx="735.4" cy="283.6" r="2.2"/><circle cx="736.5" cy="286.7" r="2.2"/><circle cx="732.7" cy="288.1" r="2.2"/><circle cx="739.7" cy="288.7" r="2.2"/><circle cx="726.8" cy="288.7" r="2.2"/><circle cx="769.0" cy="281.9" r="2.2"/><circle cx="776.4" cy="285.7" r="2.2"/><circle cx="760.0" cy="288.7" r="2.2"/><circle cx="741.2" cy="294.2" r="2.2"/><circle cx="748.3" cy="295.7" r="2.2"/><circle cx="732.1" cy="296.9" r="2.2"/><circle cx="720.6" cy="298.1" r="2.2"/><circle cx="719.4" cy="302.6" r="2.2"/><circle cx="744.0" cy="300.4" r="2.2"/><circle cx="738.5" cy="305.3" r="2.2"/><circle cx="756.1" cy="305.3" r="2.2"/><circle cx="779.0" cy="303.8" r="2.2"/><circle cx="790.7" cy="305.3" r="2.2"/><circle cx="792.5" cy="301.2" r="2.2"/><circle cx="947.7" cy="101.2" r="2.2"/><circle cx="894.9" cy="104.7" r="2.2"/><circle cx="919.9" cy="104.9" r="2.2"/><circle cx="942.6" cy="108.0" r="2.2"/><circle cx="952.4" cy="110.3" r="2.2"/><circle cx="957.1" cy="110.0" r="2.2"/><circle cx="935.6" cy="112.3" r="2.2"/><circle cx="940.1" cy="112.3" r="2.2"/><circle cx="935.1" cy="114.7" r="2.2"/><circle cx="939.5" cy="114.7" r="2.2"/><circle cx="906.6" cy="116.2" r="2.2"/><circle cx="926.9" cy="118.8" r="2.2"/><circle cx="914.8" cy="121.7" r="2.2"/><circle cx="887.3" cy="127.9" r="2.2"/><circle cx="921.0" cy="125.2" r="2.2"/><circle cx="918.0" cy="127.6" r="2.2"/><circle cx="925.0" cy="127.6" r="2.2"/><circle cx="932.1" cy="125.8" r="2.2"/><circle cx="944.2" cy="121.7" r="2.2"/><circle cx="941.8" cy="125.2" r="2.2"/><circle cx="949.7" cy="122.5" r="2.2"/><circle cx="945.3" cy="127.6" r="2.2"/><circle cx="923.6" cy="132.8" r="2.2"/><circle cx="934.2" cy="132.3" r="2.2"/><circle cx="950.4" cy="133.1" r="2.2"/><circle cx="953.5" cy="131.1" r="2.2"/><circle cx="957.4" cy="130.7" r="2.2"/><circle cx="955.3" cy="135.0" r="2.2"/><circle cx="898.4" cy="134.3" r="2.2"/><circle cx="901.9" cy="135.4" r="2.2"/><circle cx="912.1" cy="138.9" r="2.2"/><circle cx="906.0" cy="142.2" r="2.2"/><circle cx="908.1" cy="145.2" r="2.2"/><circle cx="900.8" cy="145.5" r="2.2"/><circle cx="903.5" cy="147.5" r="2.2"/><circle cx="922.2" cy="140.1" r="2.2"/><circle cx="926.6" cy="141.3" r="2.2"/><circle cx="921.9" cy="143.4" r="2.2"/><circle cx="937.7" cy="139.3" r="2.2"/><circle cx="945.9" cy="142.2" r="2.2"/><circle cx="946.9" cy="145.7" r="2.2"/><circle cx="938.6" cy="148.1" r="2.2"/><circle cx="894.3" cy="151.4" r="2.2"/><circle cx="904.6" cy="150.7" r="2.2"/><circle cx="908.1" cy="151.8" r="2.2"/><circle cx="910.1" cy="151.6" r="2.2"/><circle cx="915.4" cy="153.4" r="2.2"/><circle cx="916.8" cy="156.9" r="2.2"/><circle cx="924.2" cy="154.9" r="2.2"/><circle cx="951.8" cy="154.5" r="2.2"/><circle cx="929.3" cy="157.5" r="2.2"/><circle cx="937.1" cy="157.2" r="2.2"/><circle cx="884.0" cy="158.7" r="2.2"/><circle cx="840.9" cy="160.9" r="2.2"/><circle cx="892.9" cy="162.1" r="2.2"/><circle cx="914.0" cy="161.2" r="2.2"/><circle cx="917.8" cy="164.9" r="2.2"/><circle cx="927.7" cy="165.9" r="2.2"/><circle cx="931.3" cy="161.2" r="2.2"/><circle cx="934.0" cy="160.9" r="2.2"/><circle cx="865.0" cy="165.6" r="2.2"/><circle cx="853.8" cy="168.6" r="2.2"/><circle cx="889.0" cy="165.3" r="2.2"/><circle cx="899.0" cy="165.6" r="2.2"/><circle cx="897.2" cy="169.0" r="2.2"/><circle cx="862.0" cy="173.8" r="2.2"/><circle cx="868.3" cy="176.4" r="2.2"/><circle cx="877.3" cy="175.2" r="2.2"/><circle cx="882.8" cy="175.0" r="2.2"/><circle cx="888.2" cy="171.5" r="2.2"/><circle cx="891.0" cy="175.2" r="2.2"/><circle cx="882.6" cy="179.4" r="2.2"/><circle cx="850.9" cy="178.8" r="2.2"/><circle cx="849.5" cy="181.3" r="2.2"/><circle cx="842.1" cy="184.0" r="2.2"/><circle cx="860.9" cy="182.9" r="2.2"/><circle cx="865.6" cy="186.0" r="2.2"/><circle cx="873.5" cy="182.3" r="2.2"/><circle cx="871.4" cy="188.2" r="2.2"/><circle cx="878.5" cy="187.0" r="2.2"/><circle cx="880.8" cy="185.2" r="2.2"/><circle cx="886.1" cy="184.0" r="2.2"/><circle cx="904.9" cy="182.9" r="2.2"/><circle cx="852.1" cy="188.7" r="2.2"/><circle cx="843.9" cy="191.2" r="2.2"/><circle cx="870.1" cy="191.7" r="2.2"/><circle cx="880.0" cy="190.7" r="2.2"/><circle cx="890.6" cy="191.4" r="2.2"/><circle cx="893.1" cy="190.3" r="2.2"/><circle cx="896.4" cy="188.4" r="2.2"/><circle cx="899.9" cy="194.6" r="2.2"/><circle cx="911.7" cy="191.4" r="2.2"/><circle cx="855.4" cy="195.0" r="2.2"/><circle cx="850.7" cy="196.6" r="2.2"/><circle cx="840.3" cy="198.1" r="2.2"/><circle cx="861.2" cy="198.1" r="2.2"/><circle cx="867.1" cy="197.0" r="2.2"/><circle cx="878.8" cy="197.8" r="2.2"/><circle cx="885.5" cy="197.0" r="2.2"/><circle cx="919.2" cy="197.8" r="2.2"/><circle cx="910.7" cy="206.3" r="2.2"/><circle cx="842.9" cy="210.7" r="2.2"/><circle cx="863.5" cy="209.9" r="2.2"/><circle cx="866.7" cy="208.3" r="2.2"/><circle cx="876.7" cy="209.5" r="2.2"/><circle cx="848.6" cy="215.7" r="2.2"/><circle cx="857.0" cy="214.2" r="2.2"/><circle cx="872.3" cy="213.7" r="2.2"/><circle cx="902.3" cy="213.7" r="2.2"/><circle cx="858.9" cy="218.7" r="2.2"/><circle cx="884.7" cy="219.6" r="2.2"/><circle cx="856.8" cy="220.9" r="2.2"/><circle cx="858.2" cy="224.5" r="2.2"/><circle cx="869.7" cy="224.5" r="2.2"/><circle cx="875.5" cy="224.5" r="2.2"/><circle cx="873.8" cy="229.1" r="2.2"/><circle cx="845.3" cy="231.4" r="2.2"/><circle cx="839.4" cy="235.5" r="2.2"/><circle cx="859.7" cy="236.2" r="2.2"/><circle cx="853.8" cy="247.3" r="2.2"/><circle cx="846.2" cy="252.0" r="2.2"/><circle cx="846.8" cy="260.1" r="2.2"/><circle cx="951.2" cy="84.0" r="2.2"/><circle cx="955.5" cy="81.6" r="2.2"/><circle cx="928.3" cy="92.2" r="2.2"/><circle cx="932.8" cy="94.0" r="2.2"/><circle cx="941.0" cy="94.9" r="2.2"/><circle cx="948.5" cy="96.1" r="2.2"/><circle cx="956.7" cy="93.4" r="2.2"/><circle cx="944.2" cy="99.2" r="2.2"/><circle cx="961.7" cy="157.5" r="2.2"/><circle cx="961.4" cy="55.6" r="2.2"/><circle cx="960.2" cy="74.3" r="2.2"/><circle cx="959.9" cy="84.3" r="2.2"/></g>
<path d="M123.82 298.92H962.28" stroke="#7570b3" stroke-width="2.3" stroke-linecap="round" fill="none"/>
<polyline points="123.82,369.50 128.02,369.33 132.21,369.16 136.41,368.99 140.61,368.82 144.80,368.64 149.00,368.46 153.20,368.28 157.39,368.09 161.59,367.90 165.78,367.71 169.98,367.51 174.18,367.31 178.37,367.11 182.57,366.90 186.77,366.69 190.96,366.48 195.16,366.27 199.36,366.05 203.55,365.82 207.75,365.59 211.95,365.36 216.14,365.13 220.34,364.89 224.54,364.65 228.73,364.40 232.93,364.15 237.13,363.89 241.32,363.63 245.52,363.37 249.72,363.10 253.91,362.82 258.11,362.55 262.30,362.26 266.50,361.98 270.70,361.68 274.89,361.39 279.09,361.09 283.29,360.78 287.48,360.47 291.68,360.15 295.88,359.83 300.07,359.50 304.27,359.16 308.47,358.82 312.66,358.48 316.86,358.13 321.06,357.77 325.25,357.41 329.45,357.04 333.64,356.66 337.84,356.28 342.04,355.89 346.23,355.50 350.43,355.10 354.63,354.69 358.82,354.28 363.02,353.86 367.22,353.43 371.41,352.99 375.61,352.55 379.81,352.10 384.00,351.64 388.20,351.17 392.40,350.70 396.59,350.22 400.79,349.73 404.99,349.23 409.18,348.72 413.38,348.21 417.57,347.69 421.77,347.15 425.97,346.61 430.16,346.06 434.36,345.50 438.56,344.93 442.75,344.35 446.95,343.77 451.15,343.17 455.34,342.56 459.54,341.94 463.74,341.31 467.93,340.67 472.13,340.02 476.33,339.36 480.52,338.69 484.72,338.01 488.92,337.31 493.11,336.60 497.31,335.89 501.51,335.15 505.70,334.41 509.90,333.66 514.09,332.89 518.29,332.11 522.49,331.31 526.68,330.51 530.88,329.68 535.08,328.85 539.27,328.00 543.47,327.14 547.67,326.26 551.86,325.37 556.06,324.46 560.26,323.54 564.45,322.60 568.65,321.64 572.85,320.67 577.04,319.69 581.24,318.69 585.43,317.67 589.63,316.63 593.83,315.58 598.02,314.50 602.22,313.41 606.42,312.30 610.61,311.18 614.81,310.03 619.01,308.87 623.20,307.68 627.40,306.48 631.60,305.25 635.79,304.01 639.99,302.74 644.19,301.45 648.38,300.14 652.58,298.81 656.78,297.46 660.97,296.08 665.17,294.68 669.37,293.26 673.56,291.81 677.76,290.34 681.95,288.84 686.15,287.32 690.35,285.78 694.54,284.20 698.74,282.60 702.94,280.98 707.13,279.33 711.33,277.64 715.53,275.93 719.72,274.20 723.92,272.43 728.12,270.63 732.31,268.80 736.51,266.95 740.71,265.06 744.90,263.14 749.10,261.18 753.30,259.20 757.49,257.18 761.69,255.12 765.88,253.04 770.08,250.91 774.28,248.75 778.47,246.56 782.67,244.33 786.87,242.06 791.06,239.75 795.26,237.40 799.46,235.02 803.65,232.59 807.85,230.13 812.05,227.62 816.24,225.07 820.44,222.47 824.64,219.84 828.83,217.16 833.03,214.43 837.23,211.66 841.42,208.84 845.62,205.97 849.81,203.06 854.01,200.10 858.21,197.08 862.40,194.02 866.60,190.91 870.80,187.74 874.99,184.52 879.19,181.24 883.39,177.91 887.58,174.53 891.78,171.09 895.98,167.59 900.17,164.03 904.37,160.41 908.57,156.73 912.76,152.99 916.96,149.18 921.15,145.31 925.35,141.38 929.55,137.38 933.74,133.31 937.94,129.18 942.14,124.97 946.33,120.70 950.53,116.35 954.73,111.93 958.92,107.44 962.28,103.79" stroke="#d95f02" stroke-width="2.3" stroke-linecap="round" stroke-linejoin="round" fill="none"/>
<rect x="81.75" y="36.33" width="922.31" height="417.07" stroke="#dedede" stroke-width="1.25" fill="none"/>
<text x="123.32" y="471" font-family="'Liberation Sans', sans-serif" font-size="16" fill="#262626" text-anchor="middle">0</text>
<text x="291.18" y="471" font-family="'Liberation Sans', sans-serif" font-size="16" fill="#262626" text-anchor="middle">20</text>
<text x="459.04" y="471" font-family="'Liberation Sans', sans-serif" font-size="16" fill="#262626" text-anchor="middle">40</text>
<text x="626.90" y="471" font-family="'Liberation Sans', sans-serif" font-size="16" fill="#262626" text-anchor="middle">60</text>
<text x="794.76" y="471" font-family="'Liberation Sans', sans-serif" font-size="16" fill="#262626" text-anchor="middle">80</text>
<text x="962.62" y="471" font-family="'Liberation Sans', sans-serif" font-size="16" fill="#262626" text-anchor="middle">100</text>
<text x="75.2" y="434.38" font-family="'Liberation Sans', sans-serif" font-size="16" fill="#262626" text-anchor="end">−100</text>
<text x="75.2" y="385.06" font-family="'Liberation Sans', sans-serif" font-size="16" fill="#262626" text-anchor="end">0</text>
<text x="75.2" y="335.74" font-family="'Liberation Sans', sans-serif" font-size="16" fill="#262626" text-anchor="end">100</text>
<text x="75.2" y="286.42" font-family="'Liberation Sans', sans-serif" font-size="16" fill="#262626" text-anchor="end">200</text>
<text x="75.2" y="237.11" font-family="'Liberation Sans', sans-serif" font-size="16" fill="#262626" text-anchor="end">300</text>
<text x="75.2" y="187.79" font-family="'Liberation Sans', sans-serif" font-size="16" fill="#262626" text-anchor="end">400</text>
<text x="75.2" y="138.47" font-family="'Liberation Sans', sans-serif" font-size="16" fill="#262626" text-anchor="end">500</text>
<text x="75.2" y="89.15" font-family="'Liberation Sans', sans-serif" font-size="16" fill="#262626" text-anchor="end">600</text>
<text x="542.9" y="490" font-family="'Liberation Sans', sans-serif" font-size="17.5" fill="#262626" text-anchor="middle">x</text>
<text transform="translate(32.1,245) rotate(-90)" font-family="'Liberation Sans', sans-serif" font-size="17.5" fill="#262626" text-anchor="middle">y</text>
<text x="542.9" y="32" font-family="'Liberation Sans', sans-serif" font-size="17.75" fill="#262626" text-anchor="middle">Curve Fit Exponential Growth</text>
<rect x="89.6" y="45.4" width="255.5" height="73.3" rx="3.5" ry="3.5" fill="#ffffff" fill-opacity="0.8" stroke="#e8e8e8" stroke-width="1.1"/>
<path d="M96.1 57H128.65" stroke="#d95f02" stroke-width="2.3" stroke-linecap="round"/>
<path d="M96.1 80H128.65" stroke="#7570b3" stroke-width="2.3" stroke-linecap="round"/>
<circle cx="112.6" cy="104.8" r="2.2" fill="#1b9e77" fill-opacity="0.8"/>
<text x="142.1" y="62.5" font-family="'Liberation Sans', sans-serif" font-size="16.3" fill="#262626">Exponential Decay</text>
<text x="142.1" y="86" font-family="'Liberation Sans', sans-serif" font-size="16.3" fill="#262626">Fit</text>
<text x="142.1" y="110" font-family="'Liberation Sans', sans-serif" font-size="16.3" fill="#262626">Exponential Decay + Noise</text>
</svg>
</body></html>
